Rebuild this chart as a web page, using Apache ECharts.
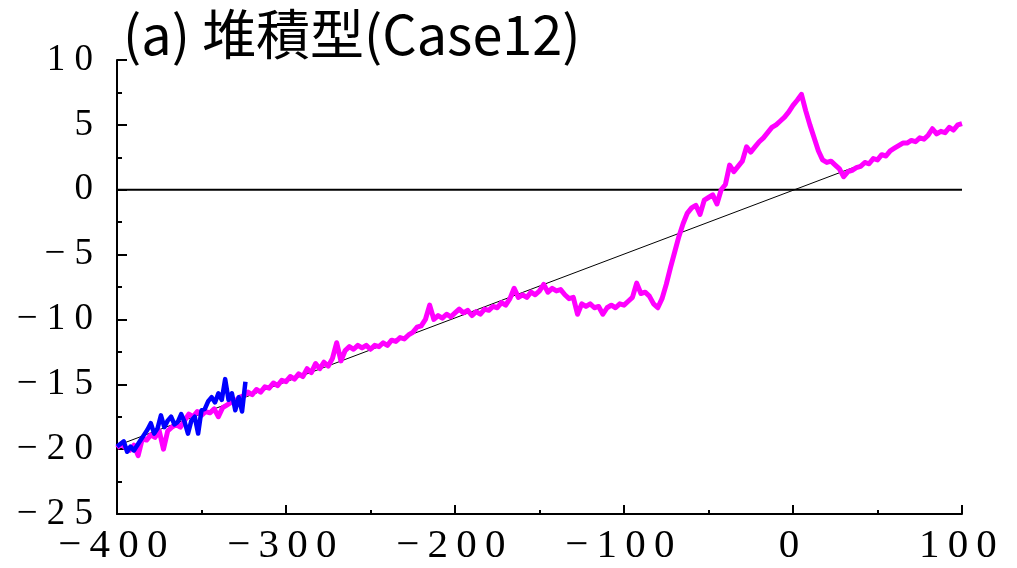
<!DOCTYPE html>
<html>
<head>
<meta charset="utf-8">
<script src="https://cdn.jsdelivr.net/npm/echarts@6/dist/echarts.min.js"></script>
<style>
  html, body { margin: 0; padding: 0; background: #ffffff; }
  #chart { width: 1017px; height: 568px; }
</style>
</head>
<body>
<div id="chart"></div>
<script>
// Magenta record: sampled every 2.5 units from -400 to 100
const magentaStart = -400;
const magentaStep = 2.5;
const magentaY = [
  -19.9, -19.6, -19.9, -20.1, -19.7, -20.5, -19.2, -19.3, -18.9, -19.1,
  -18.6, -20.0, -18.6, -18.3, -18.1, -18.3, -17.8, -17.3, -17.5, -17.1,
  -17.4, -17.1, -17.2, -16.9, -17.5, -16.8, -16.6, -16.4, -16.3, -16.0,
  -15.9, -15.6, -15.8, -15.4, -15.6, -15.2, -15.3, -14.9, -15.1, -14.7,
  -14.8, -14.4, -14.6, -14.2, -14.4, -13.8, -14.1, -13.4, -13.8, -13.3,
  -13.6, -13.0, -11.8, -13.2, -12.4, -12.1, -12.3, -12.0, -12.2, -12.0,
  -12.3, -12.0, -12.1, -11.8, -12.0, -11.6, -11.7, -11.4, -11.5, -11.2,
  -11.0, -10.6, -10.5, -10.0, -8.9, -10.0, -9.7, -9.9, -9.6, -9.8,
  -9.5, -9.2, -9.5, -9.3, -9.7, -9.4, -9.6, -9.2, -9.3, -9.0,
  -9.1, -8.7, -8.9, -8.4, -7.6, -8.3, -8.1, -8.3, -7.9, -8.1,
  -7.8, -7.3, -7.9, -7.6, -7.8, -7.7, -8.1, -8.4, -8.3, -9.6,
  -8.8, -9.0, -8.8, -9.1, -9.0, -9.6, -9.1, -8.9, -9.1, -8.8,
  -8.9, -8.6, -8.3, -7.2, -8.0, -7.9, -8.2, -8.8, -9.1, -8.4,
  -7.3, -6.0, -4.8, -3.6, -2.6, -1.8, -1.4, -1.2, -1.9, -0.8,
  -0.6, -0.4, -1.1, 0.0, 0.4, 1.9, 1.4, 1.8, 2.2, 3.3,
  2.9, 3.3, 3.7, 4.0, 4.4, 4.8, 5.0, 5.3, 5.6, 6.0,
  6.5, 6.9, 7.35, 6.1, 5.0, 4.0, 3.0, 2.3, 2.1, 2.2,
  1.9, 1.6, 1.0, 1.4, 1.5, 1.7, 1.8, 2.1, 2.0, 2.4,
  2.3, 2.7, 2.6, 3.0, 3.2, 3.4, 3.6, 3.6, 3.8, 3.7,
  4.0, 3.9, 4.2, 4.7, 4.3, 4.5, 4.4, 4.8, 4.6, 5.0,
  5.1
];

// Blue record: sampled every 2 units from -400 to -324
const blueStart = -400;
const blueStep = 2;
const blueY = [
  -19.8, -19.6, -19.4, -20.2, -19.8, -20.1, -19.7, -19.3, -18.9, -18.5,
  -18.0, -18.8, -18.4, -17.4, -18.3, -17.8, -17.5, -18.1, -17.9, -17.3,
  -17.9, -18.8, -17.8, -17.5, -18.8, -17.0, -16.9, -16.3, -16.0, -16.4,
  -15.7, -16.2, -14.6, -16.2, -15.7, -17.0, -16.0, -17.1, -14.8
];

// Thin straight reference line
const trendX = [-400, 45];
const trendY = [-19.73, 2.17];

// Zero level
const zeroX = [-400, 100];
const zeroY = [0, 0];

// Axis ranges
const xRange = { min: -400, max: 100, step: 100 };
const yRange = { min: -25, max: 10, step: 5 };

const titleText = '(a) 堆積型(Case12)';

const pairs = (xs, ys) => xs.map((x, i) => [x, ys[i]]);
const sampled = (start, step, ys) => ys.map((y, i) => [start + i * step, y]);

// Tick labels: spaced digits with a true minus sign
function spacedWith(gap) {
  return function (v) {
    const s = String(Math.abs(v)).split('').join(gap);
    return v < 0 ? '\u2212' + gap + s : s;
  };
}

const chart = echarts.init(document.getElementById('chart'), null, { renderer: 'canvas' });

chart.setOption({
  animation: false,
  backgroundColor: '#ffffff',
  title: {
    text: titleText,
    left: 118,
    top: 2,
    textStyle: {
      fontFamily: 'Noto Sans CJK JP',
      fontSize: 54,
      fontWeight: 'normal',
      color: '#000000'
    }
  },
  grid: { left: 117, right: 55, top: 60, bottom: 54, containLabel: false },
  xAxis: {
    type: 'value',
    min: xRange.min,
    max: xRange.max,
    interval: xRange.step,
    axisLine: { show: true, onZero: false, lineStyle: { color: '#000000', width: 2 } },
    axisTick: { show: true, inside: true, length: 9, lineStyle: { color: '#000000', width: 2 } },
    minorTick: { show: true, splitNumber: 2, length: 4, lineStyle: { color: '#000000', width: 2 } },
    splitLine: { show: false },
    axisLabel: {
      margin: 12,
      formatter: (v) => spacedWith('\u2009')(v) + '\u2009',
      fontFamily: 'Liberation Serif',
      fontSize: 41,
      color: '#000000'
    }
  },
  yAxis: {
    type: 'value',
    min: yRange.min,
    max: yRange.max,
    interval: yRange.step,
    axisLine: { show: true, onZero: false, lineStyle: { color: '#000000', width: 2 } },
    axisTick: { show: true, inside: true, length: 10, lineStyle: { color: '#000000', width: 2 } },
    minorTick: { show: true, splitNumber: 2, length: 5, lineStyle: { color: '#000000', width: 2 } },
    splitLine: { show: false },
    axisLabel: {
      margin: 24,
      formatter: spacedWith(' '),
      fontFamily: 'Liberation Serif',
      fontSize: 37,
      color: '#000000'
    }
  },
  series: [
    {
      name: 'zero',
      type: 'line',
      data: pairs(zeroX, zeroY),
      symbol: 'none',
      lineStyle: { color: '#000000', width: 2 },
      z: 1
    },
    {
      name: 'trend',
      type: 'line',
      data: pairs(trendX, trendY),
      symbol: 'none',
      lineStyle: { color: '#000000', width: 1 },
      z: 2
    },
    {
      name: 'magenta',
      type: 'line',
      data: sampled(magentaStart, magentaStep, magentaY),
      symbol: 'none',
      lineStyle: { color: '#ff00ff', width: 5, join: 'round' },
      z: 3
    },
    {
      name: 'blue',
      type: 'line',
      data: sampled(blueStart, blueStep, blueY),
      symbol: 'none',
      lineStyle: { color: '#0000ff', width: 4.5, join: 'round' },
      z: 4
    }
  ]
});
</script>
</body>
</html>
